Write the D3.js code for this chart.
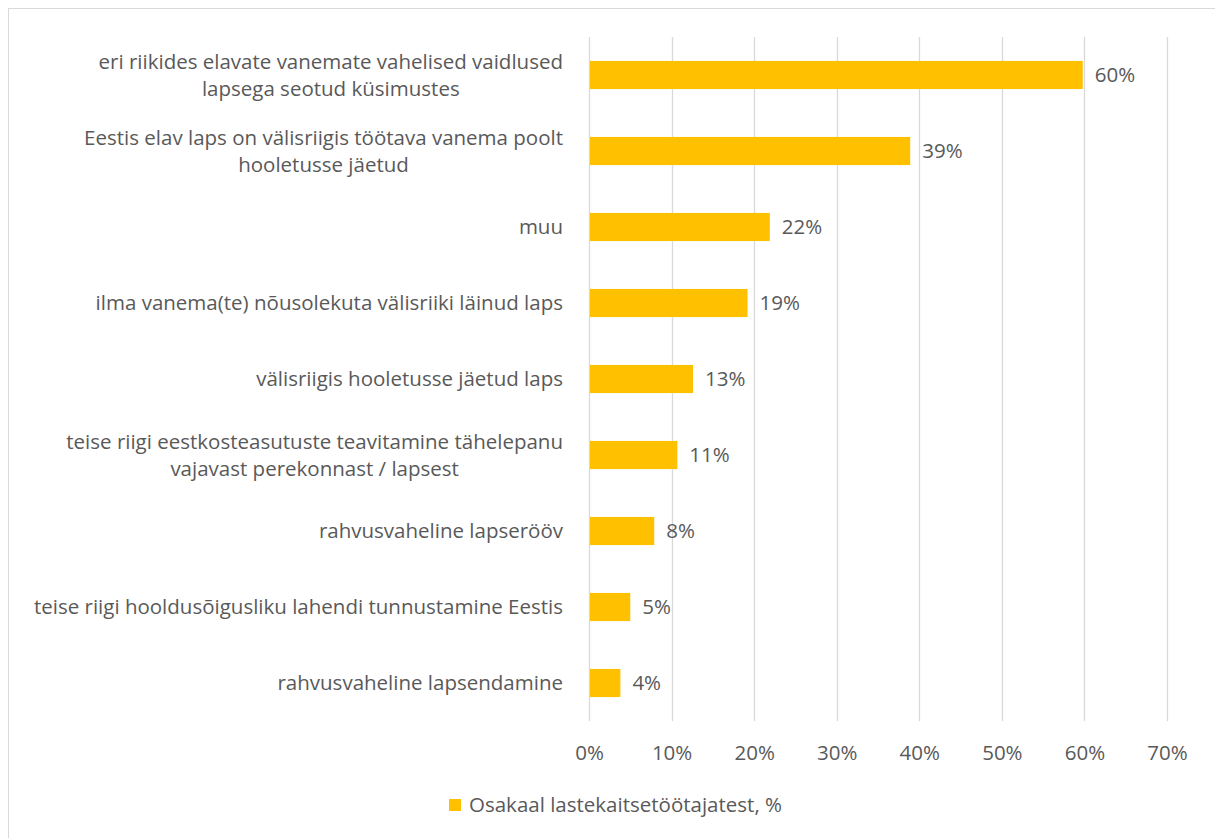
<!DOCTYPE html>
<html>
<head>
<meta charset="utf-8">
<script src="https://cdn.jsdelivr.net/npm/d3@7"></script>
<style>
  body { margin: 0; background: #fff; }
  text { font-family: "Open Sans", "Liberation Sans", sans-serif; fill: #595959; }
</style>
</head>
<body>
<div id="chart"></div>
<script>
// Data
var categories = [
  ["eri riikides elavate vanemate vahelised vaidlused", "lapsega seotud küsimustes"],
  ["Eestis elav laps on välisriigis töötava vanema poolt", "hooletusse jäetud"],
  ["muu"],
  ["ilma vanema(te) nõusolekuta välisriiki läinud laps"],
  ["välisriigis hooletusse jäetud laps"],
  ["teise riigi eestkosteasutuste teavitamine tähelepanu", "vajavast perekonnast / lapsest"],
  ["rahvusvaheline lapserööv"],
  ["teise riigi hooldusõigusliku lahendi tunnustamine Eestis"],
  ["rahvusvaheline lapsendamine"]
];
var values = [59.8, 38.9, 21.9, 19.2, 12.6, 10.7, 7.9, 5.0, 3.8];
var xTicks = [0, 10, 20, 30, 40, 50, 60, 70];
var seriesName = "Osakaal lastekaitsetöötajatest, %";

var w = 1215, h = 838;
var plot = { left: 589, right: 1167, top: 37, bottom: 721 };
var barColor = "#FFC000";
var gridColor = "#D9D9D9";
var fontSize = 20.5;

var svg = d3.select("#chart").append("svg")
  .attr("width", w)
  .attr("height", h);

// Chart frame
svg.append("rect")
  .attr("x", 8.5).attr("y", 8.5)
  .attr("width", 1220).attr("height", 840)
  .attr("fill", "#fff")
  .attr("stroke", gridColor);

var ids = d3.range(values.length);

var x = d3.scaleLinear().domain([0, 70]).range([plot.left, plot.right]);
var y = d3.scaleBand().domain(ids).range([plot.top, plot.bottom])
  .paddingInner(0.63).paddingOuter(0.315);

// Gridlines
svg.append("g")
  .selectAll("line")
  .data(xTicks)
  .enter().append("line")
  .attr("x1", d => Math.round(x(d)) + 0.5)
  .attr("x2", d => Math.round(x(d)) + 0.5)
  .attr("y1", plot.top)
  .attr("y2", plot.bottom)
  .attr("stroke", gridColor)
  .attr("stroke-width", 1.3);

// X axis labels
var xAxis = svg.append("g")
  .attr("transform", `translate(0, ${plot.bottom + 32})`)
  .call(d3.axisBottom(x).tickValues(xTicks).tickFormat(d => d + "%").tickSize(0).tickPadding(0));
xAxis.select(".domain").remove();
xAxis.selectAll("text")
  .attr("y", 0)
  .attr("dy", "0.35em")
  .style("font-size", fontSize + "px")
  .style("font-family", null)
  .attr("fill", "#595959");

// Bars
svg.append("g")
  .selectAll("rect")
  .data(ids)
  .enter().append("rect")
  .attr("x", x(0) + 1)
  .attr("y", d => y(d))
  .attr("width", d => x(values[d]) - x(0) - 1)
  .attr("height", y.bandwidth())
  .attr("fill", barColor);

// Value labels
svg.append("g")
  .selectAll("text")
  .data(ids)
  .enter().append("text")
  .attr("x", d => x(values[d]) + 12)
  .attr("y", d => y(d) + y.bandwidth() / 2)
  .attr("dy", "0.35em")
  .style("font-size", fontSize + "px")
  .text(d => Math.round(values[d]) + "%");

// Category labels (wrapped lines centred, block right-aligned)
var lineH = 27;
var labelRight = 563;
var catG = svg.append("g");
ids.forEach(function (i) {
  var lines = categories[i];
  var cy = y(i) + y.bandwidth() / 2;
  var g = catG.append("g");
  var texts = lines.map(function (ln, k) {
    return g.append("text")
      .attr("y", cy + (k - (lines.length - 1) / 2) * lineH)
      .attr("dy", "0.35em")
      .attr("text-anchor", "middle")
      .style("font-size", fontSize + "px")
      .text(ln);
  });
  var maxW = d3.max(texts, t => t.node().getComputedTextLength());
  texts.forEach(t => t.attr("x", labelRight - maxW / 2));
});

// Legend
var legend = svg.append("g");
var legendText = legend.append("text")
  .attr("y", 805)
  .attr("dy", "0.35em")
  .style("font-size", fontSize + "px")
  .text(seriesName);
var lw = legendText.node().getComputedTextLength();
var lx = (w + 16 - lw - 20) / 2;
legend.append("rect")
  .attr("x", lx).attr("y", 799)
  .attr("width", 12).attr("height", 12)
  .attr("fill", barColor);
legendText.attr("x", lx + 20);
</script>
</body>
</html>
